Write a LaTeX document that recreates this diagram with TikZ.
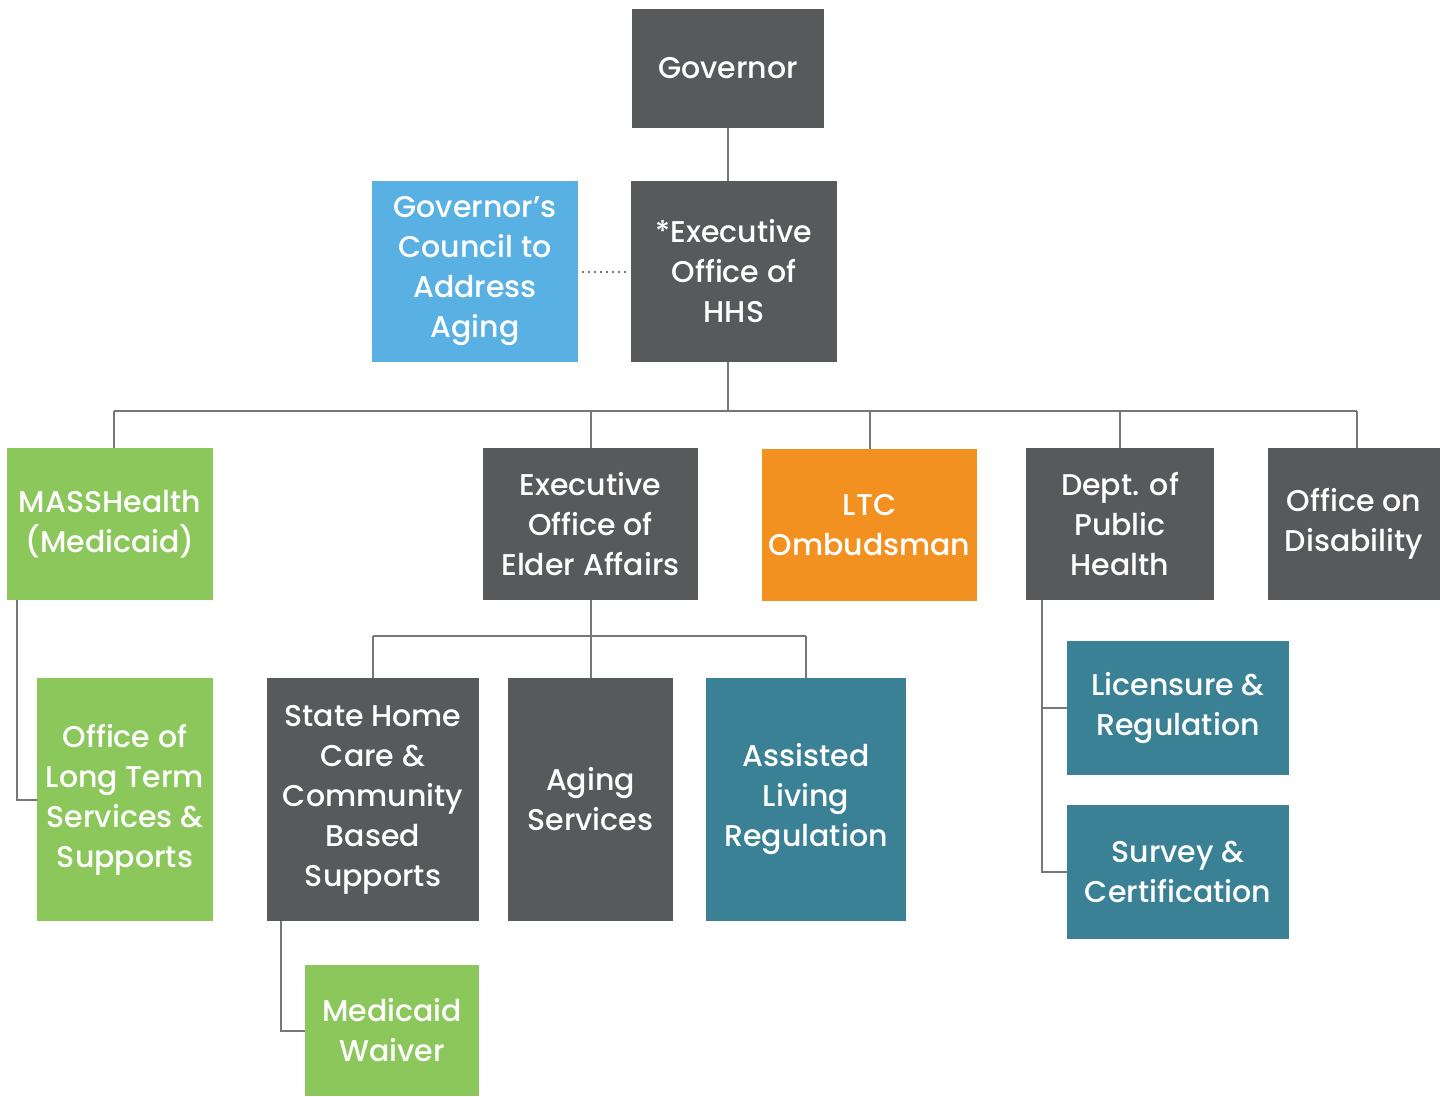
\documentclass[tikz,border=0pt]{standalone}
\usepackage{fontspec}
\setmainfont{Poppins Medium}
\usepackage{tikz, xcolor}

\definecolor{boxgray}{HTML}{58595B}
\definecolor{boxgreen}{HTML}{8BC75A}
\definecolor{boxblue}{HTML}{58B0E3}
\definecolor{boxorange}{HTML}{F39120}
\definecolor{boxteal}{HTML}{3A8195}
\definecolor{linegray}{HTML}{777777}

\tikzset{
  unit/.style={inner sep=0pt, align=center, text=white,
    font=\fontsize{15}{20}\selectfont},
  link/.style={draw=linegray, line width=1pt}
}

\begin{document}
\begin{tikzpicture}[x=0.5pt, y=-0.5pt]
    \useasboundingbox (0, 0) rectangle (1440, 1097);

    % top
    \node (gov) at (728, 68.5) [unit, fill=boxgray, minimum width=96pt, minimum height=59.5pt] {Governor};
    \node (hhs) at (734, 271.5) [unit, fill=boxgray, minimum width=103pt, minimum height=90.5pt] {*Executive\\Office of\\HHS};
    \node (council) at (475, 271.5) [unit, fill=boxblue, minimum width=103pt, minimum height=90.5pt] {Governor’s\\Council to\\Address\\Aging};

    % second row
    \node (mass) at (110, 524) [unit, fill=boxgreen, minimum width=103pt, minimum height=76pt] {MASSHealth\\(Medicaid)};
    \node (elder) at (590.5, 524) [unit, fill=boxgray, minimum width=107.5pt, minimum height=76pt] {Executive\\Office of\\Elder Affairs};
    \node (ltc) at (869.5, 525) [unit, fill=boxorange, minimum width=107.5pt, minimum height=76pt] {LTC\\Ombudsman};
    \node (dph) at (1120, 524) [unit, fill=boxgray, minimum width=94pt, minimum height=76pt] {Dept. of\\Public\\Health};
    \node (disab) at (1354, 524) [unit, fill=boxgray, minimum width=86pt, minimum height=76pt] {Office on\\Disability};

    % third row
    \node (ltss) at (125, 799.5) [unit, fill=boxgreen, minimum width=88pt, minimum height=121.5pt] {Office of\\Long Term\\Services \&\\Supports};
    \node (shc) at (373, 799.5) [unit, fill=boxgray, minimum width=106pt, minimum height=121.5pt] {State Home\\Care \&\\Community\\Based\\Supports};
    \node (aging) at (590.5, 799.5) [unit, fill=boxgray, minimum width=82.5pt, minimum height=121.5pt] {Aging\\Services};
    \node (alr) at (806, 799.5) [unit, fill=boxteal, minimum width=100pt, minimum height=121.5pt] {Assisted\\Living\\Regulation};
    \node (lic) at (1178, 708) [unit, fill=boxteal, minimum width=111pt, minimum height=67pt] {Licensure \&\\Regulation};
    \node (surv) at (1178, 872) [unit, fill=boxteal, minimum width=111pt, minimum height=67pt] {Survey \&\\Certification};
    \node (mw) at (392, 1030.5) [unit, fill=boxgreen, minimum width=87pt, minimum height=65.5pt] {Medicaid\\Waiver};

    \coordinate (bus) at (0, 411);
    \coordinate (ebus) at (0, 636);

    % lines
    \draw [link] (gov.south) to (gov.south |- hhs.north);
    \draw [link, dotted, shorten <=2pt, shorten >=2pt] (council.east) to (hhs.west);
    \draw [link] (gov.south |- hhs.south) to (gov.south |- bus);
    \draw [link] ([xshift=2pt]mass.north |- bus) to ([xshift=1.5pt]disab.north |- bus);
    \foreach \c/\s in {mass/2pt, elder/0pt, ltc/0pt, dph/0pt, disab/1.5pt}
    {
      \draw [link] ([xshift=\s]\c.north) to ([xshift=\s]\c.north |- bus);
    }

    \draw [link] (elder.south) to (elder.south |- ebus);
    \draw [link] (shc.north |- ebus) to (alr.north |- ebus);
    \foreach \c in {shc, aging, alr}
    {
      \draw [link] (\c.north) to (\c.north |- ebus);
    }

    \draw [link] ([xshift=5pt]mass.south west) |- (ltss.west);
    \draw [link] ([xshift=7pt]shc.south west) |- (mw.west);
    \draw [link] ([xshift=8pt]dph.south west) |- (surv.west);
    \draw [link] (lic.west) -| ([xshift=8pt]dph.south west);

  \end{tikzpicture}
\end{document}
